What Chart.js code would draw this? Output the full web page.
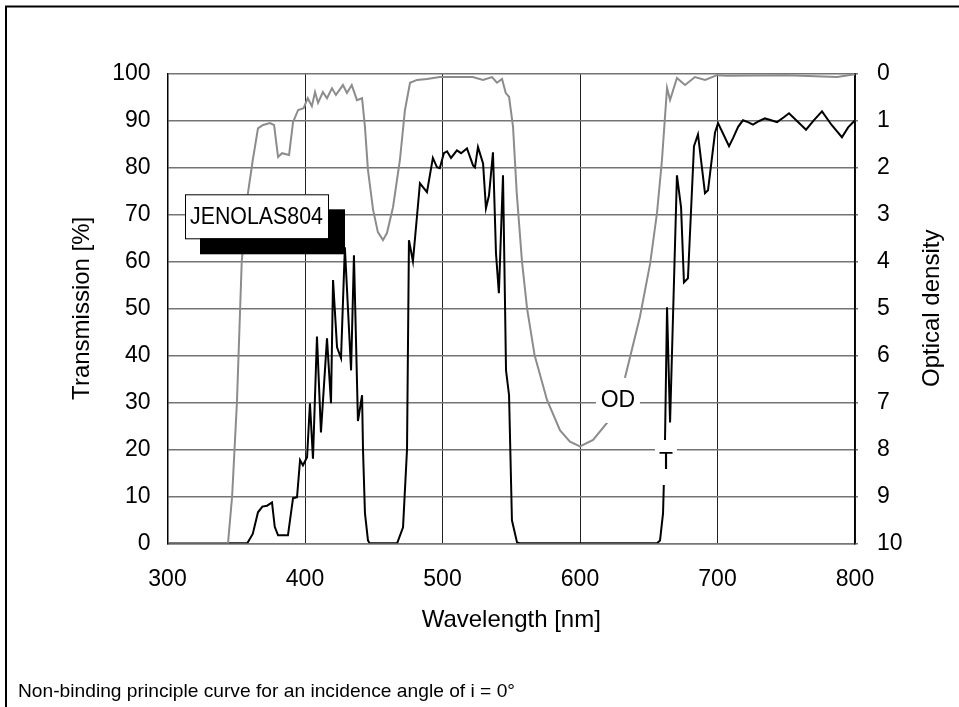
<!DOCTYPE html>
<html>
<head>
  <title>JENOLAS804 transmission curve</title>
  <script src="https://cdn.jsdelivr.net/npm/chart.js"></script>
  <style>
    html, body { margin: 0; padding: 0; background: #fff; }
    canvas { display: block; }
  </style>
</head>
<body>
  <canvas id="filterChart" width="959" height="707"></canvas>
  <script>
    // transmission T [%]
    const tWavelength = [300, 344, 358, 362, 365.8, 369, 372.4, 376, 378, 380.4, 387.6, 391.3, 394.2, 396.4, 398.5,
      401.5, 403.6, 405.8, 408.7, 411.6, 416, 418.9, 420.4, 423.3, 426.2, 429, 433.5, 435.6, 438.5, 441.5,
      442.2, 443.6, 445.8, 447, 467, 471.3, 474.2, 475.6, 478.5, 483.6, 488.7, 493, 496, 498, 501, 503.3,
      506.2, 510.5, 513.5, 517.8, 522.2, 523.6, 525.8, 529.5, 531.6, 533.8, 536.7, 538.9, 541, 544, 545.5,
      546.2, 548.4, 550.5, 554.2, 556, 656, 658.2, 660.4, 661.8, 663.3, 665.5, 670.5, 673.5, 675.6, 678.5,
      682.9, 685.8, 690.9, 693.1, 698.2, 700.4, 704, 708.4, 711.3, 715, 718.5, 722.2, 725.8, 730, 734.5,
      739, 743.3, 748, 752, 758, 764.4, 770, 776, 783, 790.5, 795, 800];
    const tValues = [0, 0, 0, 2, 6.6, 7.8, 8, 8.7, 3.5, 1.7, 1.7, 9.6, 9.8, 17.7, 16.6,
      18.3, 29.8, 18, 44, 23.6, 43.6, 29.8, 56, 41.7, 39.4, 63, 36.8, 61.3, 26, 31.5,
      19.8, 6.4, 0.6, 0, 0, 3.4, 20, 64.5, 60, 76.6, 74.7, 82, 80, 79.8, 83, 83.4,
      82, 83.6, 83, 84, 80.4, 80, 84.3, 80.8, 71.3, 74, 83.2, 61.7, 53.2, 78.3, 50.2,
      36.8, 31.5, 4.9, 0.2, 0, 0, 0.6, 6.4, 21.5, 50.2, 25.7, 78.3, 71.5, 55.5, 56.4,
      84.5, 87, 74.5, 75.1, 87.4, 89.4, 87.2, 84.5, 86.2, 88.6, 90, 89.6, 89.1, 89.8, 90.4,
      90, 89.6, 90.6, 91.5, 89.8, 88, 90, 91.9, 89, 86.4, 88.5, 90];

    // optical density OD
    const odWavelength = [300, 344, 347, 350.5, 354, 358.5, 362, 365.8, 369.5, 374.5, 377.5, 380.4, 383.3, 388.4,
      391.3, 395, 399, 402, 405, 407.3, 409.5, 413, 416, 419.6, 422.5, 427.6, 430.5, 434, 437.8, 441.5,
      443.6, 445.8, 449.5, 453, 456.7, 459.6, 464, 469, 472.7, 476.4, 481.5, 488.7, 498, 522, 529.5, 536,
      539.6, 543.3, 546, 548.4, 551.3, 554, 557.8, 561.5, 567, 576, 585.5, 592.7, 600, 609.5, 619.6, 632.7,
      643.6, 651, 656, 659.6, 663.3, 665.5, 670.5, 676.4, 683.6, 691, 699.6, 707, 750, 787, 800];
    const odValues = [10, 10, 9, 7, 4, 2.55, 1.85, 1.17, 1.1, 1.06, 1.1, 1.78, 1.7, 1.74,
      1.04, 0.78, 0.74, 0.53, 0.7, 0.4, 0.63, 0.4, 0.53, 0.32, 0.46, 0.25, 0.42, 0.25, 0.57, 0.53,
      1.14, 2.06, 2.9, 3.38, 3.55, 3.4, 2.85, 1.85, 0.78, 0.2, 0.14, 0.12, 0.08, 0.08, 0.14, 0.08,
      0.2, 0.12, 0.42, 0.5, 1.14, 2.55, 4, 5, 6, 6.95, 7.6, 7.84, 7.94, 7.8, 7.44, 6.48,
      5.18, 4.05, 2.97, 1.85, 0.31, 0.57, 0.1, 0.25, 0.08, 0.14, 0.04, 0.05, 0.04, 0.08, 0.02];

    const FONT = 'Arial, "Liberation Sans", sans-serif';
    Chart.defaults.font.family = FONT;
    Chart.defaults.color = '#000';

    function toPoints(xs, ys) {
      return xs.map((x, i) => ({ x: x, y: ys[i] }));
    }

    // draw text squeezed to a given width
    function fitText(ctx, text, x, y, width) {
      const w = ctx.measureText(text).width;
      ctx.save();
      ctx.translate(x, y);
      ctx.scale(width / w, 1);
      ctx.fillText(text, 0, 0);
      ctx.restore();
    }

    const extras = {
      id: 'extras',
      afterDatasetsDraw(chart) {
        const ctx = chart.ctx;
        const xs = chart.scales.x, ys = chart.scales.y, od = chart.scales.y2;
        const area = chart.chartArea;
        ctx.save();

        // curve labels with white knock-out boxes
        ctx.font = '23px ' + FONT;
        ctx.textAlign = 'center';
        ctx.textBaseline = 'middle';
        let px = xs.getPixelForValue(627.6), py = od.getPixelForValue(6.95);
        ctx.fillStyle = '#fff';
        ctx.fillRect(px - 22, py - 22, 44, 45);
        ctx.fillStyle = '#000';
        ctx.fillText('OD', px, py + 1);
        px = xs.getPixelForValue(662.5); py = ys.getPixelForValue(17.3);
        ctx.fillStyle = '#fff';
        ctx.fillRect(px - 11, py - 22, 22, 45);
        ctx.fillStyle = '#000';
        ctx.fillText('T', px, py + 1);

        // product name box with shadow
        const bx = area.left + 17.5, by = area.top + 121;
        ctx.fillStyle = '#000';
        ctx.fillRect(bx + 15, by + 15, 145, 45);
        ctx.fillStyle = '#fff';
        ctx.fillRect(bx, by, 143, 44);
        ctx.strokeStyle = '#000';
        ctx.lineWidth = 1;
        ctx.strokeRect(bx + 0.5, by + 0.5, 143, 44);
        ctx.fillStyle = '#000';
        ctx.font = '23px ' + FONT;
        ctx.textAlign = 'left';
        ctx.textBaseline = 'middle';
        fitText(ctx, 'JENOLAS804', bx + 5, by + 23, 133);

        // right axis title
        ctx.font = '24px ' + FONT;
        ctx.textAlign = 'center';
        ctx.translate(932, (area.top + area.bottom) / 2);
        ctx.rotate(-Math.PI / 2);
        ctx.fillText('Optical density', 0, 0);
        ctx.restore();

        // footer note and frame
        ctx.save();
        ctx.fillStyle = '#000';
        ctx.font = '19px ' + FONT;
        ctx.textBaseline = 'alphabetic';
        fitText(ctx, 'Non-binding principle curve for an incidence angle of i = 0°', 18, 697, 497);
        ctx.strokeStyle = '#000';
        ctx.lineWidth = 2;
        ctx.beginPath();
        ctx.moveTo(6, 707);
        ctx.lineTo(6, 6.5);
        ctx.lineTo(959, 6.5);
        ctx.stroke();
        ctx.restore();
      }
    };

    new Chart(document.getElementById('filterChart'), {
      type: 'scatter',
      data: {
        datasets: [
          {
            label: 'OD',
            data: toPoints(odWavelength, odValues),
            yAxisID: 'y2',
            showLine: true,
            borderColor: '#8c8c8c',
            borderWidth: 2,
            pointRadius: 0,
            tension: 0,
            order: 0
          },
          {
            label: 'T',
            data: toPoints(tWavelength, tValues),
            yAxisID: 'y',
            showLine: true,
            borderColor: '#000',
            borderWidth: 2,
            pointRadius: 0,
            tension: 0,
            order: 1
          }
        ]
      },
      options: {
        responsive: false,
        animation: false,
        layout: { padding: { top: 73.3, left: 0, right: 0, bottom: 0 } },
        plugins: { legend: { display: false }, tooltip: { enabled: false } },
        scales: {
          x: {
            type: 'linear', min: 300, max: 800,
            ticks: { stepSize: 100, font: { size: 23 }, padding: 23 },
            grid: { color: '#222', lineWidth: 1, drawTicks: false },
            border: { color: '#777', width: 1.5 },
            title: { display: true, text: 'Wavelength [nm]', font: { size: 24 }, padding: { top: 0, bottom: 72.6 } },
            afterFit(s) { s.height = 707 - 543.3; }
          },
          y: {
            position: 'left', min: 0, max: 100,
            ticks: { stepSize: 10, font: { size: 23 }, padding: 17 },
            grid: { color: '#747474', lineWidth: 1.5, drawTicks: false },
            border: { color: '#000', width: 1.5 },
            title: { display: true, text: 'Transmission [%]', font: { size: 24 }, padding: { top: 67.6, bottom: 0 } },
            afterFit(s) { s.width = 167.5; }
          },
          y2: {
            position: 'right', min: 0, max: 10, reverse: true,
            ticks: { stepSize: 1, font: { size: 23 }, padding: 19 },
            grid: { drawOnChartArea: false, drawTicks: true, tickLength: 3, color: '#747474', lineWidth: 1.5 },
            border: { color: '#000', width: 1.5 },
            afterFit(s) { s.width = 959 - 855; }
          }
        }
      },
      plugins: [extras]
    });
  </script>
</body>
</html>
